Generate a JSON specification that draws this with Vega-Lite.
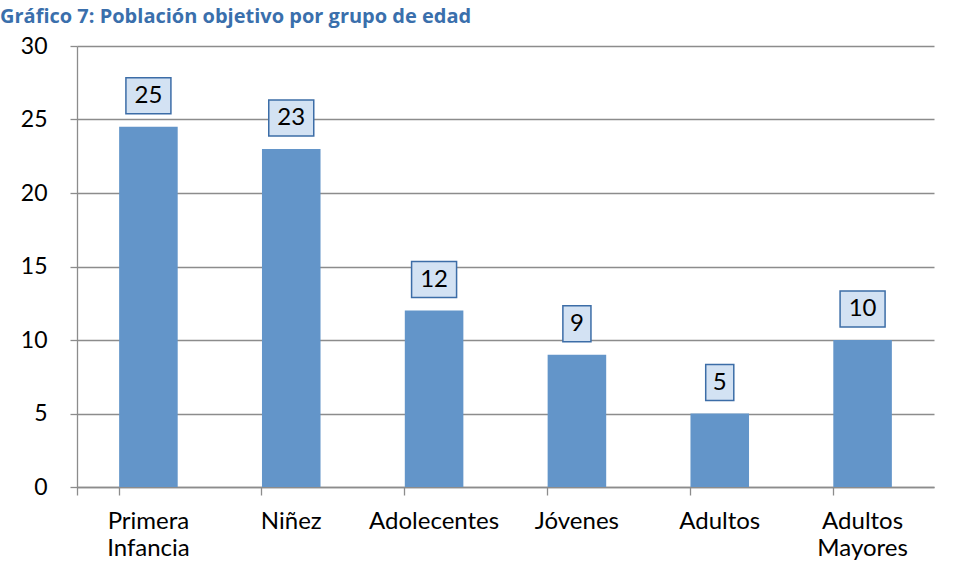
{
  "$schema": "https://vega.github.io/schema/vega-lite/v6.json",
  "autosize": {"type": "none"},
  "padding": {"left": 77, "top": 46, "right": 21, "bottom": 94},
  "width": 857,
  "height": 441,
  "background": "white",
  "title": {
    "text": "Gráfico 7: Población objetivo por grupo de edad",
    "anchor": "start",
    "frame": "group",
    "dx": -77,
    "offset": 8,
    "font": "Open Sans",
    "fontSize": 20,
    "fontWeight": "bold",
    "color": "#3a6fac"
  },
  "data": {
    "values": [
      {"grupo": "Primera|Infancia", "valor": 24.5, "etiqueta": 25},
      {"grupo": "Niñez", "valor": 23, "etiqueta": 23},
      {"grupo": "Adolecentes", "valor": 12, "etiqueta": 12},
      {"grupo": "Jóvenes", "valor": 9, "etiqueta": 9},
      {"grupo": "Adultos", "valor": 5, "etiqueta": 5},
      {"grupo": "Adultos|Mayores", "valor": 10, "etiqueta": 10}
    ]
  },
  "encoding": {
    "x": {
      "field": "grupo",
      "type": "nominal",
      "sort": null,
      "scale": {"paddingInner": 0.59, "paddingOuter": 0.295},
      "axis": {
        "title": null,
        "labelAngle": 0,
        "labelExpr": "split(datum.label, '|')",
        "labelFont": "Lato",
        "labelFontSize": 24,
        "labelColor": "#000000",
        "labelPadding": 14,
        "labelLineHeight": 27,
        "labelBaseline": "top",
        "bandPosition": 0,
        "tickExtra": true,
        "tickSize": 8,
        "tickColor": "#8c8c8c",
        "tickWidth": 1.3,
        "domainColor": "#8c8c8c",
        "domainWidth": 1.3,
        "grid": false
      }
    },
    "y": {
      "field": "valor",
      "type": "quantitative",
      "scale": {"domain": [0, 30], "nice": false},
      "axis": {
        "title": null,
        "values": [0, 5, 10, 15, 20, 25, 30],
        "labelFont": "Lato",
        "labelFontSize": 23,
        "labelColor": "#000000",
        "labelPadding": 23,
        "tickSize": 7,
        "tickColor": "#8c8c8c",
        "tickWidth": 1.3,
        "domainColor": "#8c8c8c",
        "domainWidth": 1.3,
        "gridColor": "#8c8c8c",
        "gridWidth": 1.3
      }
    }
  },
  "layer": [
    {"mark": {"type": "bar", "color": "#6395c9"}},
    {
      "mark": {
        "type": "point",
        "filled": true,
        "fill": "#d3e2f3",
        "stroke": "#3c6da7",
        "strokeWidth": 1.5,
        "opacity": 1,
        "size": 1296,
        "yOffset": -31
      },
      "encoding": {
        "shape": {
          "condition": {"test": "datum.etiqueta >= 10", "value": "M-1.25,-1H1.25V1H-1.25Z"},
          "value": "M-0.78,-1H0.78V1H-0.78Z"
        }
      }
    },
    {
      "mark": {
        "type": "text",
        "font": "Lato",
        "fontSize": 24,
        "color": "#000000",
        "baseline": "middle",
        "yOffset": -31
      },
      "encoding": {"text": {"field": "etiqueta", "type": "quantitative"}}
    }
  ],
  "config": {"view": {"stroke": null}}
}
